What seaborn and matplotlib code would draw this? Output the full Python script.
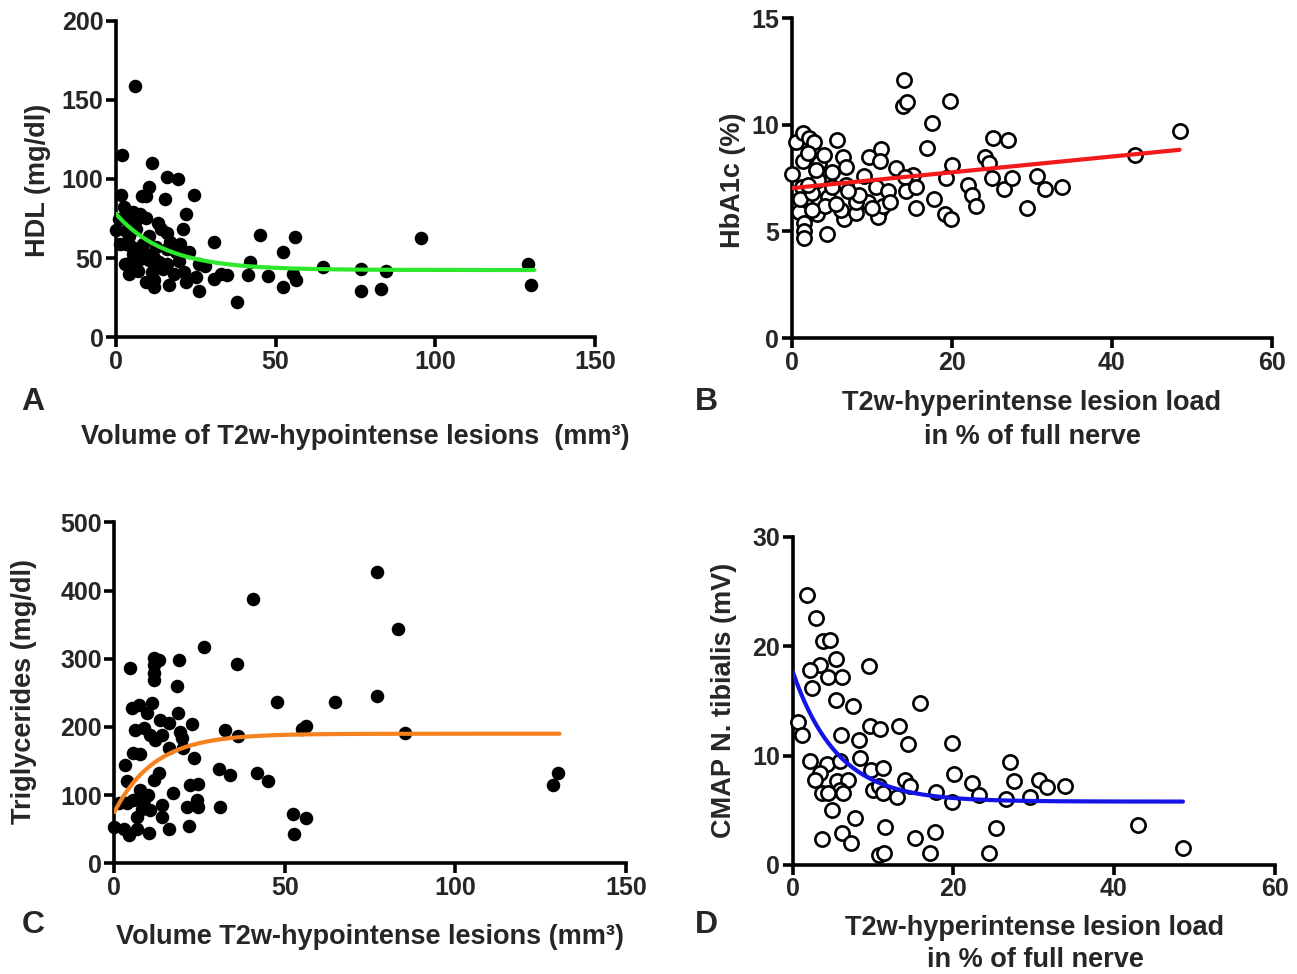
"""Four-panel lesion load vs. lab/neuro values (A-D), GraphPad-like styling."""
import matplotlib
matplotlib.use("Agg")
import matplotlib.pyplot as plt
import numpy as np
import pandas as pd
import seaborn as sns

# ---- Panel A: HDL vs volume of T2w-hypointense lesions ----
hdl_x = [6.0, 2.0, 11.4, 15.9, 19.3, 10.3, 1.5, 8.0, 9.4, 15.2, 24.5, 21.8, 21.0, 15.9, 0.0,
         30.7, 45.0, 56.1, 52.4, 41.9, 64.7, 76.7, 84.7, 76.7, 83.0, 26.0, 38.0, 30.7, 34.8,
         41.2, 47.6, 52.4, 56.3, 55.3, 22.9, 18.7, 18.3, 21.9, 26.0, 9.3, 11.9, 16.6, 4.1, 2.7,
         1.2, 3.2, 5.3, 7.4, 9.5, 13.1, 14.0, 6.3, 10.3, 4.1, 8.4, 12.5, 5.3, 7.4, 10.3, 13.5,
         4.8, 14.6, 7.0, 11.3, 19.8, 21.4, 3.2, 9.5, 15.9, 12.0, 95.5, 129.0, 130.0,
         2.5, 4.0, 6.5, 1.0, 3.0, 5.0, 8.0, 12.0, 6.0, 16.0, 17.0, 20.0, 25.0, 28.0, 33.0]
hdl_y = [159, 115, 110, 101.5, 100, 95, 90, 89, 89, 87.6, 90, 77.6, 68.4, 65.6, 68,
         60.3, 64.5, 63.3, 54, 47.7, 44.5, 43.4, 41.7, 29.3, 30.7, 29.3, 22, 37, 39.6,
         39.6, 38.5, 31.8, 35.9, 40, 54, 54, 40, 35, 46.6, 35, 31.8, 33, 40, 46.6,
         59, 78, 79, 78, 75.5, 72, 68.6, 68.6, 64, 64, 59, 57, 52.4, 49.7, 48.6, 47.5,
         47.5, 43.2, 42, 41, 48, 41, 59, 52.4, 55.5, 36, 63, 46.6, 33,
         82, 72, 75, 75, 67, 57, 54, 50, 44, 46, 60, 59, 38, 45, 40]
hdl_fit = dict(y0=78.0, plateau=42.5, k=0.065, xmax=131.0)

# ---- Panel B: HbA1c vs T2w-hyperintense lesion load ----
hba_x = [14.0, 13.9, 14.4, 19.8, 17.6, 16.9, 20.1, 5.7, 0.5, 1.4, 2.2, 2.8, 9.7, 11.2, 11.0,
         6.4, 1.4, 3.4, 6.8, 0.0, 13.1, 15.2, 14.2, 10.6, 14.3, 15.6, 19.3, 22.1, 22.5, 23.1,
         15.6, 17.8, 19.2, 19.9, 0.9, 1.6, 1.6, 1.5, 4.4, 3.2, 6.6, 8.05, 11.0, 10.8, 11.4,
         9.6, 6.2, 3.4, 1.3, 4.5, 8.0, 5.0, 3.3, 6.8, 8.4, 1.1, 4.2, 2.6, 48.5, 42.9, 25.2,
         27.0, 24.2, 24.7, 25.1, 26.5, 27.5, 30.7, 31.7, 33.8, 29.4,
         2.0, 4.0, 3.0, 2.0, 5.0, 7.0, 9.0, 12.0, 10.0, 2.5, 5.5, 12.3]
hba_y = [12.1, 10.9, 11.05, 11.1, 10.1, 8.9, 8.1, 9.3, 9.2, 9.6, 9.4, 9.2, 8.5, 8.85, 8.3,
         8.5, 8.3, 8.2, 8.0, 7.7, 7.97, 7.65, 7.55, 7.1, 6.9, 7.1, 7.5, 7.2, 6.7, 6.2,
         6.1, 6.5, 5.8, 5.6, 5.9, 5.4, 5.0, 4.7, 4.9, 5.8, 5.6, 5.85, 6.0, 5.7, 6.2,
         6.4, 6.0, 6.4, 7.1, 6.6, 6.4, 7.1, 7.4, 7.2, 6.7, 6.5, 6.2, 6.8, 9.7, 8.6, 9.4,
         9.3, 8.5, 8.2, 7.5, 7.0, 7.5, 7.6, 7.0, 7.1, 6.1,
         8.7, 8.6, 7.9, 7.2, 7.8, 6.9, 7.6, 6.9, 6.1, 6.0, 6.3, 6.4]
hba_fit = dict(intercept=7.03, slope=0.0371, xmax=48.5)

# ---- Panel C: triglycerides vs volume of T2w-hypointense lesions ----
tg_x = [40.6, 26.4, 35.9, 19.0, 4.7, 11.5, 13.0, 11.5, 11.5, 11.5, 18.5, 5.2, 7.1, 11.0, 9.6,
        18.8, 13.5, 15.9, 6.1, 8.6, 10.5, 12.0, 13.9, 19.3, 19.8, 22.7, 15.9, 20.0, 23.5,
        32.5, 36.3, 47.6, 64.6, 56.1, 55.0, 30.8, 33.9, 41.9, 45.1, 3.2, 5.6, 7.6, 3.7, 13.0,
        11.5, 7.6, 10.0, 5.6, 17.2, 22.2, 24.6, 21.3, 24.2, 24.6, 31.0, 13.9, 10.5, 13.9, 8.1,
        6.6, 0.0, 2.7, 4.2, 6.6, 10.3, 15.9, 22.0, 1.3, 3.7, 8.6, 52.4, 56.1, 52.7, 77.0,
        83.2, 77.1, 85.1, 130.0, 128.7]
tg_y = [387, 317, 292, 298, 286, 301, 298, 291, 279, 269, 260, 227, 232, 235, 220,
        220, 210, 205, 196, 198, 188, 181, 188, 193, 183, 204, 169, 169, 154,
        196, 187, 236, 236, 202, 197, 139, 129, 132, 120, 144, 161, 160, 120, 132,
        122, 107, 100, 93, 103, 115, 117, 83, 93, 83, 83, 85, 78, 68, 80,
        68, 53, 51, 41, 51, 44, 51, 54, 88, 88, 93, 73, 66, 43, 427,
        344, 245, 191, 133, 115]
tg_fit = dict(y0=75.0, plateau=190.0, k=0.085, xmax=130.5)

# ---- Panel D: CMAP N. tibialis vs T2w-hyperintense lesion load ----
cmap_x = [1.8, 2.9, 3.8, 4.6, 5.4, 3.4, 2.2, 4.4, 6.2, 9.5, 2.4, 5.4, 7.5, 15.8, 0.7, 1.1,
          6.0, 8.2, 9.6, 10.9, 13.2, 14.4, 19.8, 2.2, 4.3, 5.9, 8.4, 3.4, 2.8, 9.8, 11.3, 5.5,
          6.9, 5.9, 3.6, 4.4, 6.3, 10.0, 10.7, 11.3, 13.0, 14.0, 14.6, 17.9, 20.1, 19.9, 22.3,
          23.2, 4.9, 7.8, 3.7, 6.2, 7.3, 11.5, 10.7, 11.4, 15.2, 17.7, 17.1, 24.4, 25.3, 27.1,
          27.6, 30.7, 31.7, 33.9, 26.6, 29.6, 43.0, 48.6]
cmap_y = [24.7, 22.6, 20.5, 20.6, 18.8, 18.3, 17.8, 17.2, 17.2, 18.2, 16.2, 15.1, 14.5, 14.8,
          13.1, 11.9, 11.9, 11.4, 12.7, 12.4, 12.7, 11.1, 11.2, 9.5, 9.2, 9.5, 9.8, 8.4, 7.8,
          8.7, 8.9, 7.7, 7.8, 6.9, 6.6, 6.6, 6.6, 6.9, 7.2, 6.6, 6.2, 7.8, 7.2, 6.7, 8.3, 5.8,
          7.5, 6.4, 5.0, 4.3, 2.4, 2.9, 2.0, 3.5, 0.9, 1.1, 2.5, 3.0, 1.1, 1.1, 3.4, 9.45,
          7.7, 7.8, 7.1, 7.2, 6.0, 6.25, 3.7, 1.6]
cmap_fit = dict(y0=17.7, plateau=5.8, k=0.18, xmax=48.6)

W, H = 1297, 974
sns.set_theme(style="ticks")
plt.rcParams["font.family"] = ["Liberation Sans", "DejaVu Sans"]
plt.rcParams["font.weight"] = "bold"

fig = plt.figure(figsize=(W / 100, H / 100), dpi=100)


def add_axes(x0, x1, y0, y1):
    """Axes from pixel extents (x0..x1 left/right, y0 bottom px, y1 top px)."""
    return fig.add_axes([x0 / W, 1 - y0 / H, (x1 - x0) / W, (y0 - y1) / H])


def style_axes(ax, xlim, ylim, xticks, yticks):
    ax.set_xlim(*xlim)
    ax.set_ylim(*ylim)
    ax.set_xticks(xticks)
    ax.set_yticks(yticks)
    sns.despine(ax=ax)
    for s in ("left", "bottom"):
        ax.spines[s].set_linewidth(2.6)
        ax.spines[s].set_color("black")
    ax.tick_params(width=2.6, length=7, labelsize=18, color="black", pad=2)
    for lab in ax.get_xticklabels() + ax.get_yticklabels():
        lab.set_fontweight("bold")
    ax.set_xlabel("")
    ax.set_ylabel("")


def decay(fit):
    xs = np.linspace(0, fit["xmax"], 200)
    return xs, fit["plateau"] + (fit["y0"] - fit["plateau"]) * np.exp(-fit["k"] * xs)


def ftext(x, y, s, **kw):
    kw.setdefault("fontsize", 19.5)
    kw.setdefault("fontweight", "bold")
    fig.text(x / W, 1 - y / H, s, ha=kw.pop("ha", "center"), va=kw.pop("va", "center"), **kw)


filled = dict(s=95, color="black", edgecolor="black", linewidth=0, clip_on=False, zorder=3)
hollow = dict(s=105, facecolor="white", edgecolor="black", linewidth=1.9, clip_on=False, zorder=3)

# A
axA = add_axes(116, 595, 337.3, 20.7)
sns.scatterplot(x=hdl_x, y=hdl_y, ax=axA, **filled)
xs, ys = decay(hdl_fit)
sns.lineplot(x=xs, y=ys, ax=axA, color="#2ee82e", linewidth=3, zorder=4)
style_axes(axA, (0, 150), (0, 200), [0, 50, 100, 150], [0, 50, 100, 150, 200])
ftext(38, 180, "HDL (mg/dl)", rotation=90)
ftext(33, 402, "A", fontsize=23)
ftext(355, 437, "Volume of T2w-hypointense lesions  (mm³)")

# B
axB = add_axes(791.5, 1271.6, 338, 18.3)
sns.scatterplot(x=hba_x, y=hba_y, ax=axB, **hollow)
xb = np.array([0, hba_fit["xmax"]])
sns.lineplot(x=xb, y=hba_fit["intercept"] + hba_fit["slope"] * xb, ax=axB,
             color="#f21a1a", linewidth=3, zorder=4)
style_axes(axB, (0, 60), (0, 15), [0, 20, 40, 60], [0, 5, 10, 15])
ftext(733, 180, "HbA1c (%)", rotation=90)
ftext(706, 402, "B", fontsize=23)
ftext(1032, 403, "T2w-hyperintense lesion load")
ftext(1032, 437, "in % of full nerve")

# C
axC = add_axes(114.3, 626, 863.3, 522.3)
sns.scatterplot(x=tg_x, y=tg_y, ax=axC, **filled)
xs, ys = decay(tg_fit)
sns.lineplot(x=xs, y=ys, ax=axC, color="#f5821f", linewidth=3, zorder=4)
style_axes(axC, (0, 150), (0, 500), [0, 50, 100, 150], [0, 100, 200, 300, 400, 500])
ftext(24, 692, "Triglycerides (mg/dl)", rotation=90)
ftext(33, 925, "C", fontsize=23)
ftext(370, 937, "Volume T2w-hypointense lesions (mm³)")

# D
axD = add_axes(792.7, 1274.5, 865, 537)
sns.scatterplot(x=cmap_x, y=cmap_y, ax=axD, **hollow)
xs, ys = decay(cmap_fit)
sns.lineplot(x=xs, y=ys, ax=axD, color="#1414e6", linewidth=3, zorder=4)
style_axes(axD, (0, 60), (0, 30), [0, 20, 40, 60], [0, 10, 20, 30])
ftext(724, 700, "CMAP N. tibialis (mV)", rotation=90)
ftext(706, 925, "D", fontsize=23)
ftext(1035, 928, "T2w-hyperintense lesion load")
ftext(1035, 960, "in % of full nerve")

fig.savefig("out.png", dpi=100)
